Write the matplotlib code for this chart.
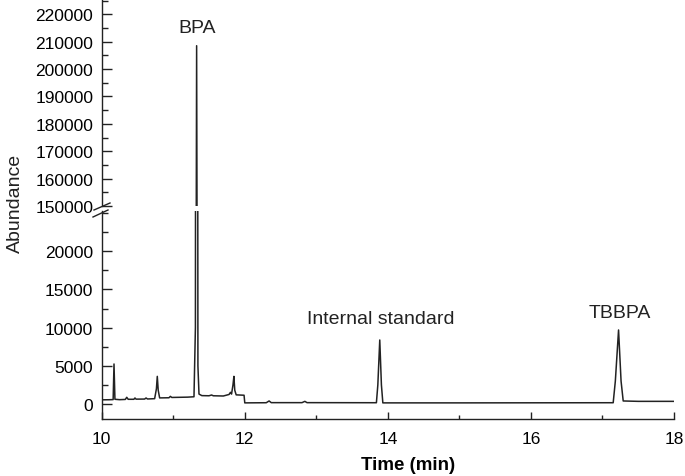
import matplotlib
matplotlib.use('Agg')
import matplotlib.pyplot as plt
from matplotlib.lines import Line2D
from matplotlib.ticker import MultipleLocator
import numpy as np

plt.rcParams['font.family'] = ['Liberation Sans', 'DejaVu Sans']

# chromatogram trace (time in min, abundance)
time = [10.00, 10.10, 10.16, 10.172, 10.185, 10.25, 10.33, 10.35, 10.37, 10.45,
        10.465, 10.48, 10.60, 10.62, 10.64, 10.74, 10.765, 10.777, 10.79, 10.81,
        10.94, 10.96, 10.98, 11.20, 11.29, 11.31, 11.327, 11.345, 11.36, 11.40,
        11.50, 11.536, 11.56, 11.70, 11.78, 11.80, 11.815, 11.835, 11.848, 11.86,
        11.88, 11.99, 12.00, 12.30, 12.34, 12.37, 12.80, 12.84, 12.87, 13.84,
        13.86, 13.887, 13.91, 13.93, 15.00, 17.15, 17.18, 17.225, 17.26, 17.29,
        17.50, 18.00]
abundance = [550, 560, 580, 5240, 620, 570, 600, 880, 620, 620,
             790, 640, 650, 790, 660, 700, 2000, 3620, 1800, 800,
             820, 1000, 860, 900, 950, 10000, 208500, 5000, 1300, 1100,
             1080, 1180, 1080, 1050, 1250, 1530, 1300, 2500, 3620, 1800,
             1200, 1150, 150, 170, 400, 180, 180, 350, 180, 170,
             2500, 8380, 2500, 150, 150, 170, 3000, 9690, 3000, 400,
             350, 350]

peak_names = ['BPA', 'Internal standard', 'TBBPA']
peak_label_t = [11.33, 13.90, 17.245]
peak_label_y = [215000, 11200, 12000]

low_ticks = [0, 5000, 10000, 15000, 20000]
high_ticks = [150000, 160000, 170000, 180000, 190000, 200000, 210000, 220000]

W, H = 685, 477
fig = plt.figure(figsize=(W / 100, H / 100), dpi=100)

left, right = 101.7 / W, 674 / W
ax_lo = fig.add_axes([left, 1 - 420 / H, right - left, (420 - 212) / H])
ax_hi = fig.add_axes([left, 1 - 207 / H, right - left, 207 / H])

lc = '#222222'
for ax in (ax_lo, ax_hi):
    ax.plot(time, abundance, color=lc, lw=1.1)
    ax.set_xlim(10, 18)
    ax.spines['top'].set_visible(False)
    ax.spines['right'].set_visible(False)
    ax.spines['left'].set_linewidth(1.0)
    ax.spines['left'].set_color(lc)
    ax.tick_params(axis='y', which='major', direction='in', length=7,
                   width=1.0, labelsize=12.5, pad=6, color=lc)
    ax.tick_params(axis='y', which='minor', direction='in', length=4,
                   width=1.0, color=lc)

ax_lo.set_ylim(-1960, 25260)
ax_lo.set_yticks(low_ticks)
ax_lo.yaxis.set_minor_locator(MultipleLocator(2500))
ax_lo.spines['bottom'].set_linewidth(1.0)
ax_lo.spines['bottom'].set_color(lc)
ax_lo.set_xticks([10, 12, 14, 16, 18])
ax_lo.xaxis.set_minor_locator(MultipleLocator(1))
ax_lo.tick_params(axis='x', which='major', direction='in', length=5,
                  width=1.0, labelsize=12.5, pad=9, color=lc)
ax_lo.tick_params(axis='x', which='minor', direction='in', length=3,
                  width=1.0, color=lc)
ax_lo.set_xlabel('Time (min)', fontsize=13.5, fontweight='bold',
                 x=0.536, labelpad=7)

ax_hi.set_ylim(150000, 225550)
ax_hi.set_yticks(high_ticks)
ax_hi.yaxis.set_minor_locator(MultipleLocator(5000))
ax_hi.spines['bottom'].set_visible(False)
ax_hi.set_xticks([])
ax_hi.patch.set_alpha(0)

ax_hi.text(peak_label_t[0], peak_label_y[0], peak_names[0], fontsize=14,
           ha='center', va='center', color=lc)
for name, t, y in zip(peak_names[1:], peak_label_t[1:], peak_label_y[1:]):
    ax_lo.text(t, y, name, fontsize=14, ha='center', va='center', color=lc)

fig.text(15 / W, 1 - 203 / H, 'Abundance', rotation=90, fontsize=14,
         ha='center', va='center', color=lc)

# axis break marks
for (x0, y0, x1, y1) in [(94, 211, 110, 204), (93, 218, 108, 211)]:
    fig.add_artist(Line2D([x0 / W, x1 / W], [1 - y0 / H, 1 - y1 / H],
                          transform=fig.transFigure, color=lc, lw=1.0))

fig.savefig('out.png', dpi=100)
